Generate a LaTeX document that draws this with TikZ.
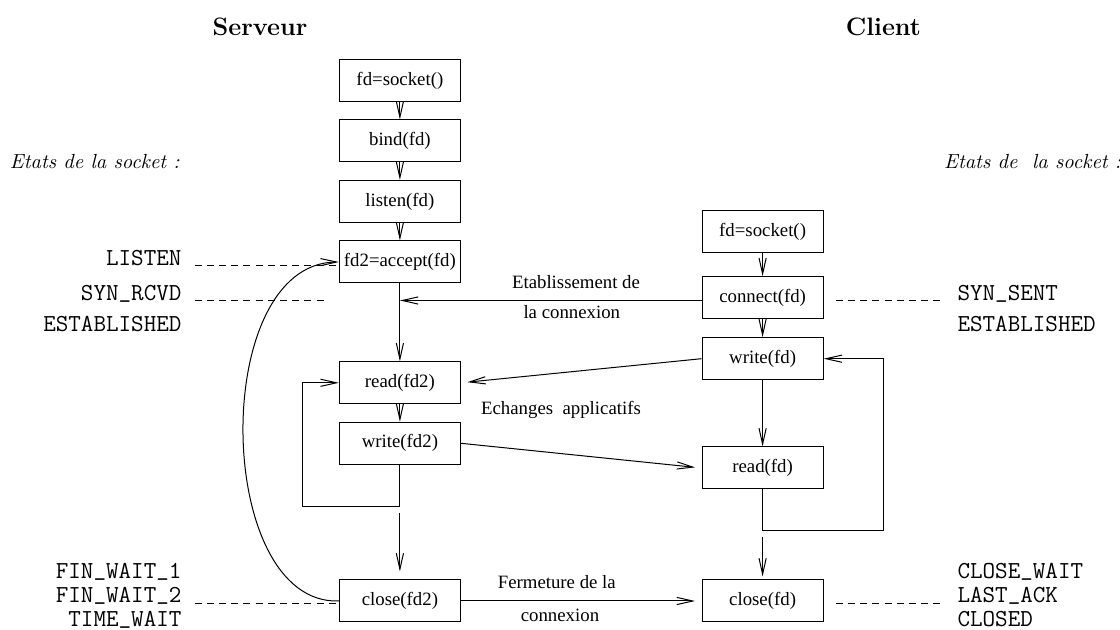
\documentclass[tikz,border=0pt]{standalone}
\usepackage{fontspec}
\newfontfamily\tmsfont{Liberation Serif}
\usetikzlibrary{arrows.meta,calc}
\newcommand\uscr{\smash{\raisebox{0.14em}{\_}}}

\begin{document}
\begin{tikzpicture}[x=0.5pt, y=-0.5pt, line width=0.5pt,
  >={Straight Barb[length=8pt,width=3.6pt]},
  call/.style={draw, minimum width=60.6pt, minimum height=21pt, inner sep=0pt,
    font=\tmsfont\fontsize{9.4}{11}\selectfont},
  txt/.style={inner sep=0pt, font=\tmsfont\fontsize{9.4}{11}\selectfont},
  sockstate/.style={inner sep=0pt, font=\ttfamily\fontsize{12.2}{12}\selectfont},
  stateline/.style={dash pattern=on 3.5pt off 2.6pt}]
  \useasboundingbox (0,0) rectangle (1120,630);
  % titles
  \node[font=\bfseries\fontsize{12.6}{15}\selectfont] (title_srv) at (260,26.7) {Serveur};
  \node[font=\bfseries\fontsize{12.6}{15}\selectfont] (title_cli) at (883.4,26.7) {Client};
  \node[anchor=west, font=\itshape\fontsize{10.2}{12}\selectfont, inner sep=0pt] (etats_srv) at (9.5,161.7) {Etats de la socket :};
  \node[anchor=west, font=\itshape\fontsize{10.2}{12}\selectfont, inner sep=0pt] (etats_cli) at (943.7,161.7) {Etats de\ \ la socket :};
  % server calls
  \node[call] (srv_socket) at (399.9,80.5) {fd=socket()};
  \node[call] (srv_bind) at (399.9,141) {bind(fd)};
  \node[call] (srv_listen) at (399.9,201.5) {listen(fd)};
  \node[call] (srv_accept) at (399.9,262) {fd2=accept(fd)};
  \node[call] (srv_read) at (399.9,382.8) {read(fd2)};
  \node[call] (srv_write) at (399.9,443.3) {write(fd2)};
  \node[call] (srv_close) at (399.9,601) {close(fd2)};
  % client calls
  \node[call] (cli_socket) at (762.6,232) {fd=socket()};
  \node[call] (cli_connect) at (762.6,297.7) {connect(fd)};
  \node[call] (cli_write) at (762.6,358.7) {write(fd)};
  \node[call] (cli_read) at (762.6,468) {read(fd)};
  \node[call] (cli_close) at (762.6,601) {close(fd)};
  % socket states, server side
  \node[sockstate, anchor=base east] (st_listen) at (182,266) {LISTEN};
  \node[sockstate, anchor=base east] (st_synrcvd) at (182,300.5) {SYN\uscr RCVD};
  \node[sockstate, anchor=base east] (st_estab_srv) at (182,331.5) {ESTABLISHED};
  \node[sockstate, anchor=east, align=right] (st_fin_srv) at (182,595) {FIN\uscr WAIT\uscr 1\\FIN\uscr WAIT\uscr 2\\TIME\uscr WAIT};
  % socket states, client side
  \node[sockstate, anchor=base west] (st_synsent) at (957,301) {SYN\uscr SENT};
  \node[sockstate, anchor=base west] (st_estab_cli) at (957,331.5) {ESTABLISHED};
  \node[sockstate, anchor=west, align=left] (st_fin_cli) at (957,595) {CLOSE\uscr WAIT\\LAST\uscr ACK\\CLOSED};
  % exchange labels
  \node[txt] (lbl_etab1) at (576,282) {Etablissement de};
  \node[txt] (lbl_etab2) at (571.8,312) {la connexion};
  \node[txt] (lbl_echg) at (561,410) {Echanges\ \ applicatifs};
  \node[txt] (lbl_ferm1) at (556.8,581.7) {Fermeture de la};
  \node[txt] (lbl_ferm2) at (560,615.7) {connexion};
  % free ends
  \coordinate (rcvd_end) at (327.7,300.5);
  \coordinate (fin_end) at (327.7,603.5);
  \coordinate (srv_loop) at (302.8,506.3);
  \coordinate (srv_gap) at (399.9,513.3);
  \coordinate (cli_loop) at (883.8,530.7);
  \coordinate (cli_gap) at (762.6,536.7);
  % server flow
  \draw[->] (srv_socket) -- (srv_bind);
  \draw[->] (srv_bind) -- (srv_listen);
  \draw[->] (srv_listen) -- (srv_accept);
  \draw[->] (srv_accept) -- (srv_read);
  \draw[->] (srv_read) -- (srv_write);
  \draw[->] (srv_write.south) |- (srv_loop) |- (srv_read.west);
  \draw[->, shorten >=4pt] (srv_gap) -- (srv_close.north);
  \draw[->] (srv_close.west) .. controls (214,605) and (209,263) .. (srv_accept.west);
  % client flow
  \draw[->] (cli_socket) -- (cli_connect);
  \draw[->] (cli_connect) -- (cli_write);
  \draw[->] (cli_write) -- (cli_read);
  \draw[->] (cli_read.south) |- (cli_loop) |- (cli_write.east);
  \draw[->, shorten >=1.5pt] (cli_gap) -- (cli_close.north);
  % exchanges between the two
  \draw[->] (cli_connect.west |- rcvd_end) -- (rcvd_end -| srv_accept.south);
  \draw[->, shorten >=3.2pt] (cli_write.west) -- (srv_read.east);
  \draw[->, shorten >=3.2pt] (srv_write.east) -- (cli_read.west);
  \draw[->, shorten >=3.2pt] (srv_close.east) -- (cli_close.west);
  % dashed state links
  \draw[stateline] ($(st_listen.base east)+(12.6,0)$) -- (st_listen.base east -| srv_accept.west);
  \draw[stateline] ($(st_synrcvd.base east)+(12.6,0)$) -- (rcvd_end);
  \draw[stateline] ($(st_fin_srv.east |- fin_end)+(12.6,0)$) -- (fin_end -| srv_close.west);
  \draw[stateline] ($(cli_connect.east |- st_synsent.base)+(12,0)$) -- ($(st_synsent.base west)+(-17,0)$);
  \draw[stateline] ($(cli_close.east |- fin_end)+(12,0)$) -- ($(st_fin_cli.west |- fin_end)+(-17,0)$);
\end{tikzpicture}
\end{document}
